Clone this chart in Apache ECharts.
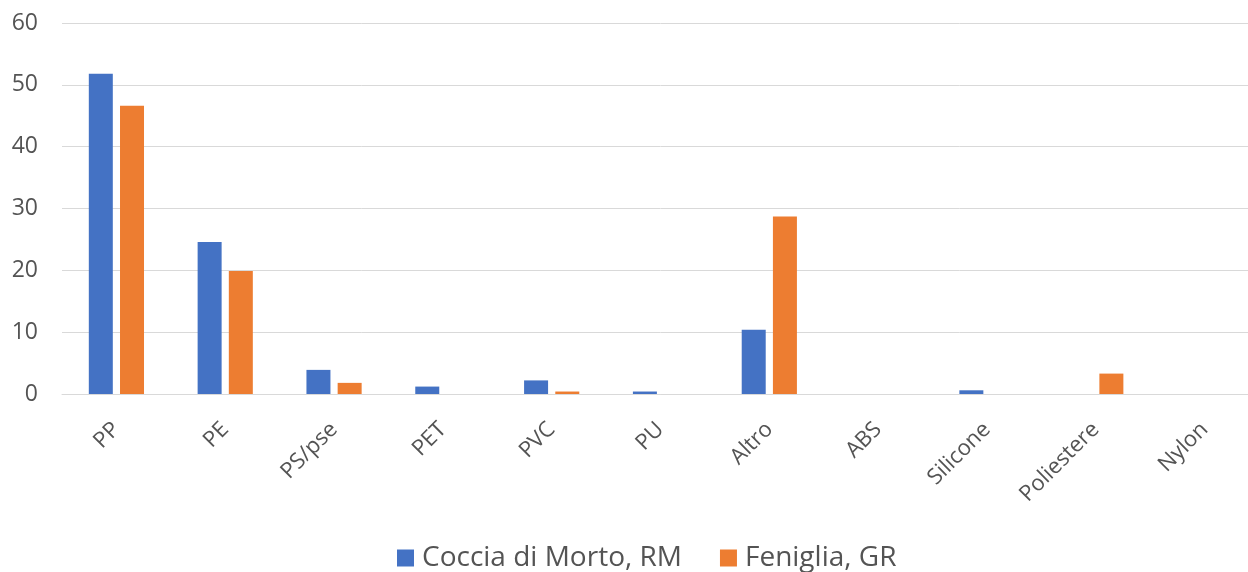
<!DOCTYPE html>
<html>
<head>
<meta charset="utf-8">
<script src="https://cdn.jsdelivr.net/npm/echarts@6/dist/echarts.min.js"></script>
<style>
  html, body { margin: 0; padding: 0; background: #fff; overflow: hidden; }
  #chart { width: 1260px; height: 572px; }
</style>
</head>
<body>
<div id="chart"></div>
<script>
const categories = ['PP', 'PE', 'PS/pse', 'PET', 'PVC', 'PU', 'Altro', 'ABS', 'Silicone', 'Poliestere', 'Nylon'];
const cocciaDiMorto = [51.8, 24.6, 3.9, 1.2, 2.2, 0.4, 10.4, 0, 0.6, 0, 0];
const feniglia = [46.6, 19.9, 1.8, 0, 0.4, 0, 28.7, 0, 0, 3.3, 0];
const seriesNames = ['Coccia di Morto, RM', 'Feniglia, GR'];

const chart = echarts.init(document.getElementById('chart'));
const font = '"Open Sans", sans-serif';

const options = {
  animation: false,
  textStyle: { fontFamily: font },
  grid: { left: 62, top: 23, right: 1, height: 371, containLabel: false },
  legend: {
    bottom: -5,
    left: 392,
    itemWidth: 17,
    itemHeight: 17,
    itemGap: 38,
    icon: 'rect',
    textStyle: { fontSize: 28, color: '#545454', fontFamily: font, padding: [0, 0, 0, 3] },
    data: seriesNames
  },
  xAxis: {
    type: 'category',
    data: categories,
    axisLine: { lineStyle: { color: '#d9d9d9' } },
    axisTick: { show: false },
    axisLabel: { rotate: 45, fontSize: 22, color: '#545454', margin: 32, interval: 0 }
  },
  yAxis: {
    type: 'value',
    min: 0,
    max: 60,
    interval: 10,
    axisLine: { show: false },
    axisTick: { show: false },
    splitLine: { lineStyle: { color: '#d9d9d9' } },
    axisLabel: { fontSize: 23, color: '#545454', margin: 24 }
  },
  series: [
    {
      name: seriesNames[0],
      type: 'bar',
      data: cocciaDiMorto,
      barWidth: 24,
      barGap: '30%',
      itemStyle: { color: '#4472C4' }
    },
    {
      name: seriesNames[1],
      type: 'bar',
      data: feniglia,
      barWidth: 24,
      itemStyle: { color: '#ED7D31' }
    }
  ]
};

chart.setOption(options);
</script>
</body>
</html>
